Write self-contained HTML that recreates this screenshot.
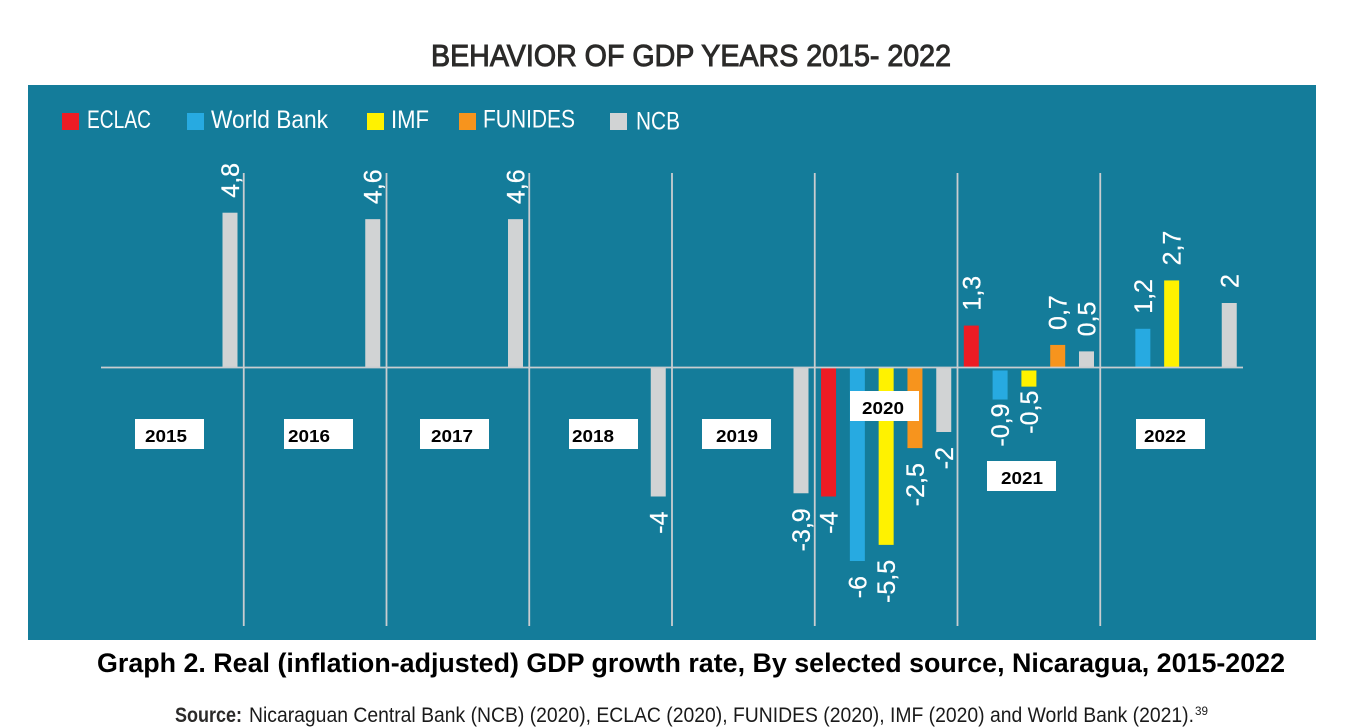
<!DOCTYPE html>
<html lang="en">
<head>
<meta charset="utf-8">
<title>Behavior of GDP years 2015-2022</title>
<style>
html,body{margin:0;padding:0;background:#fff;width:1346px;height:728px;overflow:hidden}
svg{display:block;font-family:"Liberation Sans",sans-serif}
</style>
</head>
<body>
<svg id="chart" width="1346" height="728" viewBox="0 0 1346 728" xmlns="http://www.w3.org/2000/svg">
<rect x="0" y="0" width="1346" height="728" fill="#ffffff"/>
<text x="431" y="66" font-size="31" fill="#2b2a29" stroke="#2b2a29" stroke-width="1" textLength="520" lengthAdjust="spacingAndGlyphs">BEHAVIOR OF GDP YEARS 2015- 2022</text>
<rect x="28" y="85" width="1288" height="555" fill="#147c9a"/>
<g id="grid"></g>
<g id="bars"></g>
<g id="axis"></g>
<g id="labels"></g>
<g id="years"></g>
<g id="legend"></g>
<text x="97" y="672" font-size="27" font-weight="bold" fill="#000000" textLength="1188" lengthAdjust="spacingAndGlyphs">Graph 2. Real (inflation-adjusted) GDP growth rate, By selected source, Nicaragua, 2015-2022</text>
<text x="175" y="722" font-size="21" font-weight="bold" fill="#2b2a29" textLength="67" lengthAdjust="spacingAndGlyphs">Source:</text>
<text x="249" y="722" font-size="21" fill="#1a1a1a" textLength="945" lengthAdjust="spacingAndGlyphs">Nicaraguan Central Bank (NCB) (2020), ECLAC (2020), FUNIDES (2020), IMF (2020) and World Bank (2021).</text>
<text x="1195" y="715" font-size="12" fill="#1a1a1a" textLength="13" lengthAdjust="spacingAndGlyphs">39</text>
</svg>
<script>
const years = ['2015','2016','2017','2018','2019','2020','2021','2022'];
const seriesNames = ['ECLAC','World Bank','IMF','FUNIDES','NCB'];
const eclac = [null,null,null,null,null,-4,1.3,null];
const worldBank = [null,null,null,null,null,-6,-0.9,1.2];
const imf = [null,null,null,null,null,-5.5,-0.5,2.7];
const funides = [null,null,null,null,null,-2.5,0.7,null];
const ncb = [4.8,4.6,4.6,-4,-3.9,-2,0.5,2];

const seriesValues = [eclac, worldBank, imf, funides, ncb];
const seriesColors = ['#ed1c24','#27aae1','#fff200','#f7941d','#d1d3d4'];

const NS = 'http://www.w3.org/2000/svg';
const AXIS_LEFT = 101, GROUP_W = 142.75, GROUP_PAD = 6.3, SERIES_STEP = 28.8, BAR_W = 15;
const ZERO_Y = 367.5, UNIT_H = 32.25;
const xBar = (yearIdx, seriesIdx) => AXIS_LEFT + yearIdx * GROUP_W + GROUP_PAD + seriesIdx * SERIES_STEP;
const yVal = v => ZERO_Y - v * UNIT_H;

function make(parent, tag, attrs, text) {
  const el = document.createElementNS(NS, tag);
  Object.keys(attrs).forEach(k => el.setAttribute(k, attrs[k]));
  if (text !== undefined) el.textContent = text;
  document.getElementById(parent).appendChild(el);
  return el;
}

// Vertical year separators
years.forEach((yr, i) => {
  if (i === years.length - 1) return;
  const x = AXIS_LEFT + (i + 1) * GROUP_W;
  const ln = make('grid', 'line', {x1:x, x2:x, y1:173, y2:626, stroke:'#c9cdd0', 'stroke-width':1.8});
  
  
});

// Zero axis
const axisLine = make('axis', 'line', {x1:AXIS_LEFT, x2:1243, y1:ZERO_Y, y2:ZERO_Y, stroke:'#c9cdd0', 'stroke-width':1.8});



// Bars and printed values
seriesValues.forEach((values, s) => {
  values.forEach((v, i) => {
    if (v === null) return;
    const x = xBar(i, s);
    const nudged = v < 0 && years[i] === '2021';
    const shift = nudged ? 3 : 0;
    const top = v >= 0 ? yVal(v) : ZERO_Y + shift;
    const end = v >= 0 ? ZERO_Y : yVal(v) + shift;
    const bar = make('bars', 'rect', {x:x, y:top, width:BAR_W, height:end - top, fill:seriesColors[s]});
    
    

    const gap = nudged ? 4 : 15;
    const ly = v >= 0 ? top - gap : end + gap;
    const lx = x + BAR_W / 2 + 9;
    const lab = make('labels', 'text', {
      x:lx, y:ly, fill:'#ffffff', stroke:'#ffffff', 'stroke-width':0.25, 'font-size':25,
      'text-anchor': v >= 0 ? 'start' : 'end',
      transform:'rotate(-90 ' + lx + ' ' + ly + ')'
    }, String(v).replace('.', ','));
    
    
  });
});

// Year tags
const tagLeft = [135,284,420,569,702,850,987,1136];
const tagTop = [419,419,419,419,419,391,461,419];
const tagTextLeft = [145,288,431,572,716,862,1001,1144];
years.forEach((yr, i) => {
  const box = make('years', 'rect', {x:tagLeft[i], y:tagTop[i], width:69, height:30, fill:'#ffffff'});
  
  
  const t = make('years', 'text', {x:tagTextLeft[i], y:tagTop[i] + 23, 'font-size':17.5, 'font-weight':'bold', fill:'#000000', textLength:42, lengthAdjust:'spacingAndGlyphs'}, yr);
  
  
});

// Legend
const legendSwatchX = [62,187,367,459,610];
const legendTextX = [87,211,391,483,636];
const legendTextW = [64,117,38,92,44];
const legendBaseline = [128,128,128,127.5,129.5];
seriesNames.forEach((n, i) => {
  const sw = make('legend', 'rect', {x:legendSwatchX[i], y:113, width:17, height:17, fill:seriesColors[i]});
  
  
  const t = make('legend', 'text', {x:legendTextX[i], y:legendBaseline[i], 'font-size':25, fill:'#ffffff', textLength:legendTextW[i], lengthAdjust:'spacingAndGlyphs'}, n);
  
  
});
</script>
</body>
</html>
